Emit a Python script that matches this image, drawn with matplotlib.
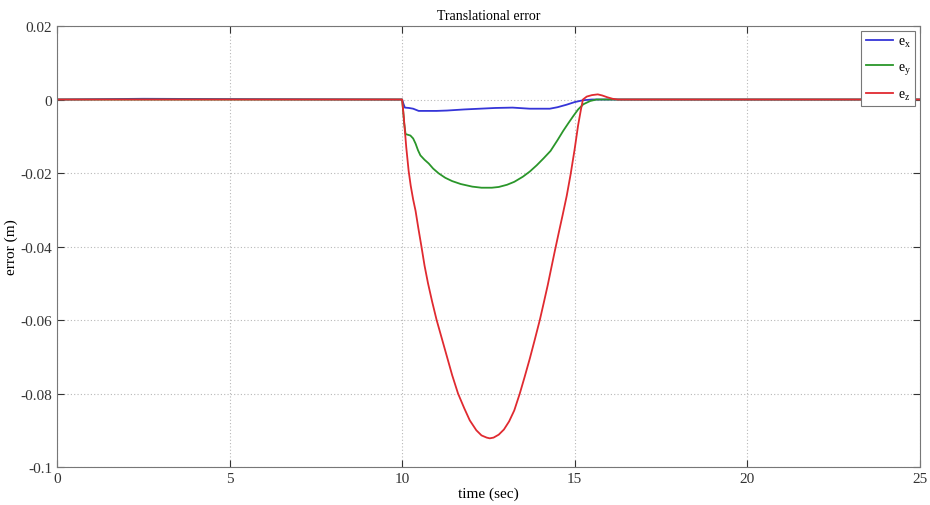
import matplotlib
matplotlib.use("Agg")
import matplotlib.pyplot as plt

# Translational error components (m) over time (sec)
t_x = [0, 2.5, 5.5, 9.9, 10.0, 10.04, 10.08, 10.2, 10.32, 10.48, 10.7, 11.0, 11.3, 11.8, 12.25,
       12.7, 13.2, 13.7, 14.28, 14.5, 14.77, 15.0, 15.24, 15.5, 16.0, 25]
e_x = [0, 0.0002, 0.0001, 0, 0, -0.0012, -0.0022, -0.0023, -0.0025, -0.0031, -0.0031, -0.0031,
       -0.0030, -0.0027, -0.0025, -0.0023, -0.0022, -0.0025, -0.0025, -0.0021, -0.0014, -0.0007,
       -0.0002, 0, 0, 0]

t_y = [0, 9.95, 10.0, 10.03, 10.06, 10.1, 10.17, 10.24, 10.32, 10.39, 10.46, 10.53, 10.65, 10.77,
       10.9, 11.06, 11.25, 11.45, 11.7, 12.03, 12.3, 12.6, 12.8, 13.04, 13.25, 13.5, 13.7, 13.9,
       14.1, 14.3, 14.5, 14.67, 14.82, 14.96, 15.1, 15.25, 15.45, 15.63, 16.0, 25]
e_y = [0, 0, 0, -0.0030, -0.0065, -0.0094, -0.0096, -0.0098, -0.0106, -0.0120, -0.0138, -0.0152,
       -0.0164, -0.0174, -0.0188, -0.0201, -0.0213, -0.0222, -0.0230, -0.0237, -0.0240, -0.0240,
       -0.0238, -0.0232, -0.0224, -0.0210, -0.0196, -0.0179, -0.0160, -0.0140, -0.0111, -0.0085,
       -0.0064, -0.0045, -0.0027, -0.0013, -0.0004, 0, 0, 0]

t_z = [0, 9.95, 10.0, 10.05, 10.12, 10.19, 10.25, 10.32, 10.39, 10.47, 10.56, 10.65, 10.75, 10.87,
       11.0, 11.15, 11.3, 11.45, 11.62, 11.8, 11.96, 12.15, 12.3, 12.45, 12.54, 12.65, 12.8, 12.95,
       13.1, 13.25, 13.41, 13.55, 13.7, 13.84, 13.99, 14.1, 14.22, 14.33, 14.43, 14.54, 14.65,
       14.77, 14.88, 15.0, 15.1, 15.18, 15.24, 15.35, 15.5, 15.67, 15.8, 15.95, 16.1, 16.25, 25]
e_z = [0, 0, 0, -0.0050, -0.0130, -0.0195, -0.0235, -0.0272, -0.0303, -0.0350, -0.0400, -0.0452,
       -0.0500, -0.0550, -0.0600, -0.0650, -0.0700, -0.0750, -0.0800, -0.0840, -0.0873, -0.0900,
       -0.0914, -0.0920, -0.0922, -0.0920, -0.0912, -0.0898, -0.0876, -0.0846, -0.0800, -0.0755,
       -0.0705, -0.0655, -0.0600, -0.0555, -0.0505, -0.0455, -0.0410, -0.0362, -0.0315, -0.0262,
       -0.0205, -0.0135, -0.0070, -0.0028, 0, 0.0008, 0.0012, 0.0014, 0.0011, 0.0006, 0.0002, 0, 0]

x_ticks = [0, 5, 10, 15, 20, 25]
y_ticks = [-0.1, -0.08, -0.06, -0.04, -0.02, 0, 0.02]
y_tick_labels = ["-0.1", "-0.08", "-0.06", "-0.04", "-0.02", "0", "0.02"]

plt.rcParams["font.family"] = ["Liberation Serif", "DejaVu Serif"]
plt.rcParams["mathtext.fontset"] = "custom"
plt.rcParams["mathtext.rm"] = "Liberation Serif"
plt.rcParams["mathtext.it"] = "Liberation Serif"

fig = plt.figure(figsize=(9.3, 5.06), dpi=100)
ax = fig.add_axes([0.0613, 0.0751, 0.9277, 0.8715])

ax.plot(t_x, e_x, color="#3535d8", lw=1.3, label=r"$\mathregular{e_x}$")
ax.plot(t_y, e_y, color="#2a962a", lw=1.3, label=r"$\mathregular{e_y}$")
ax.plot(t_z, e_z, color="#e02a30", lw=1.3, label=r"$\mathregular{e_z}$")

ax.set_xlim(0, 25)
ax.set_ylim(-0.1, 0.02)
ax.set_xticks(x_ticks)
ax.set_yticks(y_ticks)
ax.set_yticklabels(y_tick_labels)
ax.grid(True, color="#b8b8b8", linestyle=(0, (1, 2)), lw=0.8)
ax.tick_params(direction="in", top=True, right=True, labelsize=11, colors="#333333", length=5)
for s in ax.spines.values():
    s.set_color("#777777")

ax.set_title("Translational error", fontsize=10, pad=5)
ax.set_xlabel("time (sec)", fontsize=11, labelpad=1)
ax.set_ylabel("error (m)", fontsize=11, labelpad=2)

leg = ax.legend(loc="upper right", fontsize=10, handlelength=2.0, borderpad=0.3,
                labelspacing=0.8, handletextpad=0.3, fancybox=False,
                framealpha=1, edgecolor="#777777", borderaxespad=0.35)
leg.get_frame().set_linewidth(0.8)

fig.savefig("out.png", dpi=100)
